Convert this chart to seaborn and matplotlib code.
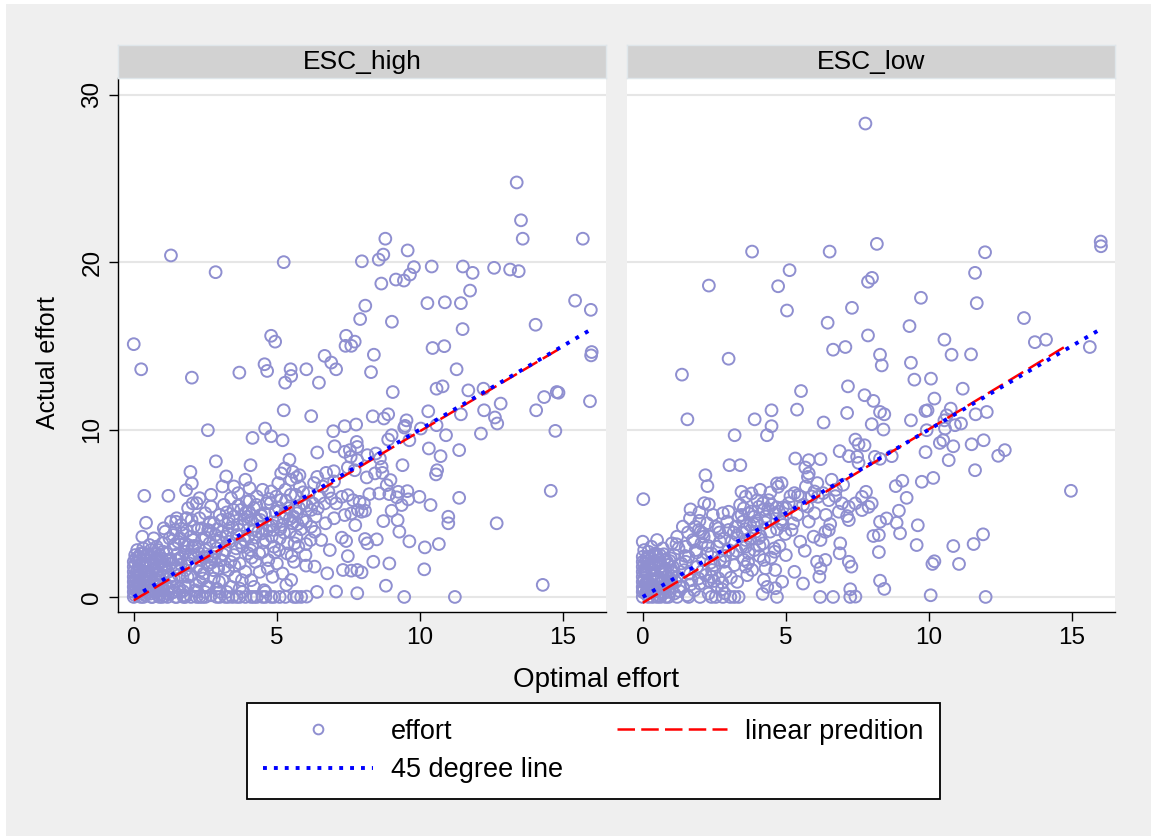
import matplotlib
matplotlib.use("Agg")
import matplotlib.pyplot as plt
import seaborn as sns
import pandas as pd
from matplotlib.lines import Line2D
from matplotlib.patches import Rectangle

# ---------------- data ----------------
panels = ["ESC_high", "ESC_low"]
x_ticks = [0, 5, 10, 15]
y_ticks = [0, 10, 20, 30]

high_sparse_x = [1.30, 2.86, 5.24, 7.97, 8.09, 7.91, 0.00, 4.80, 4.94, 7.42,
                 7.72, 7.40, 7.60, 13.38, 13.53, 13.59, 15.69, 8.79, 9.57, 8.72,
                 8.56, 9.79, 9.65, 9.16, 9.44, 8.65, 10.41, 11.50, 11.84, 12.59,
                 13.15, 13.45, 11.75, 10.26, 10.87, 11.43, 9.02, 11.49, 15.42, 15.97,
                 14.04, 10.44, 10.85, 8.39, 8.29, 11.28, 9.05, 10.58, 10.79, 11.69,
                 12.22, 16.00, 15.98, 14.34, 14.78, 14.84, 14.06, 15.94, 10.29, 11.43,
                 12.82, 12.24, 12.62, 12.70, 8.35, 8.74, 8.89, 9.53, 9.48, 9.45,
                 10.03, 10.58, 10.91, 9.63, 9.01, 8.89, 12.13, 14.73, 10.31, 10.72,
                 11.37, 8.16, 8.46, 8.60, 9.39, 8.66, 8.69, 8.43, 8.14, 8.84,
                 10.60, 10.56, 8.97, 8.23, 8.58, 8.93, 9.24, 9.56, 9.59, 9.19,
                 9.36, 9.98, 10.37, 11.37, 14.57, 8.04, 7.96, 8.08, 9.01, 8.72,
                 9.22, 9.28, 10.99, 10.99, 12.68, 8.08, 8.16, 8.49, 9.63, 10.17,
                 10.66, 8.37, 8.93, 7.96, 10.15, 8.81, 14.29, 9.45, 11.22]
high_sparse_y = [20.40, 19.40, 20.00, 20.05, 17.40, 16.60, 15.10, 15.60, 15.25, 15.60,
                 15.25, 15.00, 15.00, 24.76, 22.50, 21.40, 21.40, 21.40, 20.70, 20.45,
                 20.15, 19.70, 19.26, 18.96, 18.90, 18.72, 19.74, 19.74, 19.36, 19.66,
                 19.56, 19.46, 18.30, 17.55, 17.60, 17.55, 16.44, 16.00, 17.70, 17.15,
                 16.26, 14.87, 14.98, 14.47, 13.43, 13.60, 12.24, 12.44, 12.58, 12.34,
                 12.44, 14.63, 14.43, 11.94, 12.24, 12.20, 11.15, 11.69, 11.09, 10.91,
                 11.55, 11.15, 10.72, 10.36, 10.79, 10.66, 10.91, 10.55, 10.22, 10.12,
                 10.06, 10.26, 9.66, 9.36, 9.66, 9.40, 9.76, 9.92, 8.87, 8.41,
                 8.77, 8.47, 8.57, 8.27, 7.87, 7.77, 7.41, 7.38, 7.14, 6.68,
                 7.57, 7.32, 6.98, 6.14, 6.18, 6.14, 6.28, 6.32, 5.83, 5.95,
                 5.49, 5.98, 5.49, 5.92, 6.34, 5.59, 5.09, 5.15, 5.15, 4.53,
                 4.59, 3.90, 4.79, 4.40, 4.40, 3.46, 3.20, 3.44, 3.32, 2.96,
                 3.16, 2.10, 2.00, 1.47, 1.65, 0.67, 0.72, 0.00, 0.00]

high_mid_x = [0.26, 2.03, 3.69, 4.57, 4.66, 5.48, 5.50, 5.29, 6.03, 6.47,
              6.67, 6.90, 7.07, 5.24, 6.20, 2.59, 4.59, 4.80, 4.15, 5.20,
              6.97, 7.37, 7.77, 7.02, 7.37, 7.55, 7.79, 7.81, 6.41, 2.87,
              4.08, 5.44, 5.27, 5.56, 5.15, 5.69, 5.79, 3.23, 1.98, 2.03,
              1.83, 0.37, 1.21, 2.06, 0.43, 6.41, 6.72, 6.99, 7.48, 7.72,
              7.58, 7.81, 6.90, 7.07, 7.27, 7.48, 7.66, 7.83, 7.89, 7.37,
              7.60, 7.74, 7.27, 7.42, 7.48, 7.31, 7.60, 7.81, 6.76, 7.07,
              7.81, 6.04, 6.02, 6.32, 5.50, 5.33, 5.62, 6.02, 6.20, 6.32,
              6.18, 6.02, 6.43, 6.67, 6.26, 1.48, 1.83]
high_mid_y = [13.60, 13.10, 13.40, 13.90, 13.50, 13.60, 13.20, 12.80, 13.60, 12.80,
              14.40, 14.00, 13.60, 11.15, 10.80, 9.96, 10.06, 9.60, 9.50, 9.36,
              9.90, 10.20, 10.30, 9.00, 8.67, 8.77, 9.26, 8.96, 8.63, 8.10,
              7.87, 8.20, 7.67, 7.47, 7.38, 7.14, 7.27, 7.20, 7.47, 6.78,
              6.38, 6.04, 6.04, 5.59, 4.43, 7.17, 7.41, 7.51, 7.73, 7.57,
              8.37, 8.17, 5.88, 5.59, 5.98, 6.08, 5.78, 5.19, 5.68, 4.89,
              4.99, 4.29, 3.54, 3.34, 2.44, 1.61, 1.57, 1.61, 1.41, 0.32,
              0.22, 0.02, 1.87, 1.81, 1.01, 0.72, 3.20, 4.49, 4.19, 3.89,
              3.40, 3.16, 5.29, 5.59, 5.59, 4.49, 4.69]

high_dense_x = [0, 0, 0, 0, 0, 0, 0, 0, 0.05, 0.1,
                0.1, 0.12, 0.15, 0.2, 0.2, 0.22, 0.25, 0.3, 0.3, 0.32,
                0.35, 0.4, 0.4, 0.45, 0.5, 0.5, 0.55, 0.6, 0.6, 0.65,
                0.7, 0.7, 0.75, 0.8, 0.8, 0.85, 0.9, 0.9, 0.95, 1.0,
                1.0, 1.0, 0.05, 0.15, 0.18, 0.28, 0.38, 0.42, 0.48, 0.58,
                0.62, 0.68, 0.72, 0.78, 0.88, 0.92, 0.98, 0.05, 0.12, 0.25,
                0.55, 0.85,
                1.1, 1.15, 1.2, 1.2, 1.25, 1.3, 1.3, 1.35, 1.4, 1.4,
                1.45, 1.5, 1.5, 1.55, 1.6, 1.6, 1.65, 1.7, 1.7, 1.75,
                1.8, 1.8, 1.85, 1.9, 1.9, 1.95, 2.0, 2.0, 2.0, 1.05,
                2.1, 2.1, 2.15, 2.2, 2.25, 2.3, 2.3, 2.35, 2.4, 2.4,
                2.45, 2.5, 2.5, 2.55, 2.6, 2.6, 2.65, 2.7, 2.7, 2.75,
                2.8, 2.8, 2.85, 2.9, 2.9, 2.95, 3.0, 3.0, 2.2,
                3.05, 3.1, 3.1, 3.15, 3.2, 3.25, 3.3, 3.3, 3.35, 3.4,
                3.45, 3.5, 3.5, 3.55, 3.6, 3.65, 3.7, 3.7, 3.75, 3.8,
                3.85, 3.9, 3.9, 3.95, 4.0, 4.0,
                4.05, 4.1, 4.1, 4.15, 4.2, 4.25, 4.3, 4.3, 4.35, 4.4,
                4.45, 4.5, 4.5, 4.55, 4.6, 4.65, 4.7, 4.75, 4.8, 4.8,
                4.85, 4.9, 4.95, 5.0, 5.0,
                5.05, 5.1, 5.15, 5.2, 5.25, 5.3, 5.35, 5.4, 5.45, 5.5,
                5.55, 5.6, 5.65, 5.7, 5.75, 5.8, 5.85, 5.9, 5.95, 6.0,
                6.1, 6.2, 6.3, 6.35, 6.5, 6.55, 6.6, 6.7, 6.8, 6.85,
                7.0, 7.0, 6.4, 1.8, 2.3, 3.2, 3.6, 4.1, 4.6, 5.1,
                5.6]
high_dense_y = [0, 0.3, 0.6, 0.9, 1.2, 1.5, 1.8, 2.1, 0.1, 0.5,
                1.0, 1.6, 0.2, 0.8, 1.3, 2.2, 0, 0.5, 1.1, 1.8,
                2.6, 0.1, 0.9, 1.5, 0.3, 2.0, 0.7, 1.2, 2.8, 0,
                0.4, 1.7, 2.3, 0.9, 3.0, 0.1, 1.4, 2.5, 0.5, 1.9,
                3.2, 0, 0.7, 1.3, 1.9, 0.2, 1.3, 2.0, 0.9, 0.2,
                1.6, 2.1, 0.8, 1.3, 0.4, 1.0, 2.3, 2.5, 2.8, 2.6,
                3.1, 2.8,
                0.8, 2.6, 0.2, 1.5, 3.5, 4.5, 2.0, 0.6, 1.1, 2.9,
                4.0, 0, 1.7, 3.3, 0.5, 2.3, 4.3, 1.2, 3.8, 0.1,
                2.7, 1.6, 4.7, 0.7, 3.1, 2.0, 0, 3.6, 1.3, 4.1,
                2.5, 4.2, 0.4, 1.8, 3.0, 0.9, 4.7, 2.2, 0, 3.5,
                1.4, 5.0, 2.8, 0.6, 4.0, 1.9, 3.2, 0.1, 5.4, 2.4,
                1.1, 4.4, 3.7, 0.5, 2.9, 1.7, 4.9, 0, 5.6,
                2.2, 3.9, 1.0, 5.5, 2.8, 0.3, 4.4, 1.6, 3.3, 5.9,
                0, 2.5, 4.8, 1.2, 3.7, 6.2, 2.0, 0.5, 5.2, 3.0,
                4.3, 1.5, 0, 5.7, 2.6, 3.6,
                6.5, 1.0, 4.6, 3.1, 5.3, 2.1, 0, 6.0, 3.9, 1.5,
                4.9, 2.7, 6.4, 0.4, 3.4, 5.6, 2.2, 4.2, 0, 6.3,
                1.2, 3.0, 5.1, 4.5, 2.0,
                6.8, 3.5, 5.8, 1.4, 4.7, 6.4, 2.6, 5.3, 3.9, 7.0,
                4.4, 2.1, 6.1, 5.0, 3.0, 6.6, 0, 4.6, 5.6, 2.5,
                6.2, 5.2, 6.8, 4.8, 6.0, 3.4, 6.6, 4.4, 6.3, 2.8,
                6.9, 4.7, 0.3, 0, 0, 0, 0, 0, 0, 0,
                0]

high_fill_x = [0.02, 0.08, 0.14, 0.22, 0.33, 0.44, 0.52, 0.63, 0.74, 0.83,
               0.93, 1.03, 1.08, 1.18, 1.28, 1.38, 1.48, 1.58, 1.68, 1.78,
               1.88, 1.98, 2.08, 2.18, 2.28, 2.38, 2.48, 2.58, 2.68, 2.78,
               2.88, 2.98, 3.08, 3.18, 3.28, 3.38, 3.48, 3.58, 3.68, 3.78,
               3.88, 3.98, 4.08, 4.18, 4.28, 4.38, 4.48, 4.58, 4.68, 4.78,
               4.88, 4.98, 5.08, 5.18, 5.28, 5.38, 5.48, 5.58, 5.68, 5.78,
               1.22, 1.62, 2.02, 2.42, 2.82, 3.22, 3.62, 4.02, 4.42, 4.82,
               0.3, 0.7, 1.1, 1.5, 1.9, 2.3, 2.7, 3.1, 3.5, 3.9]
high_fill_y = [1.0, 2.3, 0.7, 1.6, 2.9, 0.5, 1.5, 2.4, 1.1, 1.8,
               0.2, 2.7, 1.9, 0.5, 1.2, 3.7, 2.2, 1.3, 2.4, 3.2,
               1.2, 2.5, 3.4, 0.7, 2.6, 4.1, 0.3, 2.4, 3.9, 1.6,
               3.3, 0.9, 4.6, 1.8, 3.8, 2.1, 5.2, 2.9, 4.0, 1.0,
               3.4, 4.8, 2.8, 4.0, 5.5, 2.6, 3.8, 5.0, 1.7, 5.6,
               4.0, 6.0, 2.8, 4.3, 5.0, 3.2, 6.1, 4.8, 3.6, 5.3,
               2.2, 3.5, 4.6, 1.1, 2.2, 3.6, 4.3, 5.1, 4.6, 3.6,
               3.6, 3.5, 3.9, 4.7, 5.3, 5.9, 6.1, 6.6, 6.6, 7.0]

high_base_x = [0.03, 0.1, 0.17, 0.24, 0.31, 0.38, 0.45, 0.52, 0.59, 0.66,
               0.73, 0.8, 0.87, 0.94, 1.01, 1.08, 1.15, 0.06, 0.2, 0.34,
               0.48, 0.62, 0.76, 0.9, 1.04, 1.18, 1.32, 1.46, 1.6, 1.74,
               2.2, 2.5, 2.9, 3.3, 3.7, 4.2, 4.5, 4.9, 5.3, 5.7]
high_base_y = [0.45, 1.45, 2.4, 0.65, 1.95, 0.35, 2.45, 1.05, 2.0, 0.5,
               2.55, 1.55, 0.7, 2.15, 1.25, 0.05, 2.2, 2.0, 2.4, 0.0,
               2.55, 0.0, 0.25, 0.0, 0.45, 0.0, 0.25, 0.0, 0.3, 0.0,
               0, 0, 0, 0, 0, 0, 0, 0, 0, 0]

high_band_x = [1.12, 1.32, 1.52, 1.72, 1.92, 2.12, 2.32, 2.52, 2.72, 2.92,
               3.12, 3.32, 3.52, 3.72, 3.92, 4.12, 4.32, 4.52, 4.72, 4.92,
               5.12, 5.32, 5.52, 5.72, 5.92, 1.25, 1.45, 1.65, 1.85, 2.05,
               2.25, 2.45, 2.65, 2.85, 3.05, 3.25, 3.45, 3.65, 3.85, 4.05,
               4.25, 4.45, 4.65, 4.85, 5.05, 5.25, 5.45, 5.65, 5.85, 6.05,
               1.0, 1.4, 1.8, 2.2, 2.6, 3.0, 3.4, 3.8, 4.2, 4.6]
high_band_y = [1.75, 0.95, 2.55, 0.35, 2.25, 3.05, 1.55, 3.55, 2.05, 4.05,
               2.55, 4.65, 1.85, 3.25, 5.05, 2.35, 4.55, 3.25, 5.85, 2.65,
               4.05, 5.75, 2.45, 4.35, 6.25, 2.25, 3.15, 1.95, 3.95, 2.95,
               4.05, 2.35, 4.45, 2.65, 3.55, 5.05, 4.15, 5.45, 4.65, 5.75,
               3.55, 4.85, 3.95, 4.25, 5.35, 3.85, 4.65, 5.15, 4.05, 5.45,
               0.6, 0.3, 0.6, 0.3, 0.6, 0.3, 0.6, 0.3, 0.6, 0.3]

low_sparse_x = [7.78, 3.82, 6.53, 8.18, 5.13, 2.31, 4.73, 8.01, 7.87, 5.04,
                7.31, 6.46, 7.87, 6.65, 7.08, 11.96, 16.00, 16.01, 11.61, 9.72,
                11.67, 13.32, 9.32, 10.54, 13.70, 14.09, 15.62, 8.29, 8.35, 9.37,
                10.79, 11.47, 9.49, 10.07, 11.18, 10.19, 8.06, 8.29, 8.44, 9.88,
                9.95, 10.76, 10.62, 10.54, 9.37, 8.00, 8.41, 9.92, 10.56, 10.91,
                11.12, 11.63, 12.02, 10.38, 10.50, 10.85, 11.49, 11.91, 9.88, 12.42,
                12.65, 10.69, 8.70, 8.11, 8.29, 11.61, 9.75, 10.15, 9.07, 8.84,
                9.22, 8.00, 14.96, 8.95, 8.29, 8.52, 8.87, 9.61, 8.99, 8.06,
                8.25, 9.57, 10.85, 11.56, 11.89, 8.25, 10.12, 10.19, 11.05, 8.29,
                8.44, 10.06, 11.98]
low_sparse_y = [28.28, 20.63, 20.63, 21.09, 19.52, 18.60, 18.56, 19.06, 18.83, 17.11,
                17.27, 16.38, 15.62, 14.77, 14.93, 20.59, 21.23, 20.95, 19.36, 17.87,
                17.55, 16.66, 16.18, 15.37, 15.22, 15.37, 14.93, 14.47, 13.83, 13.99,
                14.47, 14.49, 12.98, 13.04, 12.44, 11.85, 11.71, 11.05, 10.91, 11.11,
                11.15, 11.25, 10.85, 10.55, 10.55, 10.32, 10.00, 9.96, 10.06, 10.26,
                10.36, 10.91, 11.05, 9.20, 9.36, 9.00, 9.12, 9.36, 8.65, 8.43,
                8.77, 8.17, 8.41, 8.37, 8.25, 7.57, 6.88, 7.11, 6.94, 6.62,
                5.92, 5.59, 6.34, 5.15, 4.49, 4.69, 4.43, 4.28, 3.80, 3.64,
                3.70, 3.10, 3.04, 3.16, 3.74, 2.68, 1.97, 2.13, 1.97, 0.97,
                0.48, 0.10, 0.00]

low_mid_x = [3.00, 1.37, 5.53, 7.17, 7.75, 5.39, 4.50, 3.91, 1.56, 7.14,
             6.32, 4.50, 4.34, 3.21, 7.43, 7.54, 7.75, 6.88, 7.20, 7.49,
             7.54, 5.33, 5.80, 6.21, 5.68, 5.80, 5.77, 3.03, 3.41, 2.19,
             2.26, 0.02, 2.31, 1.98, 1.67, 3.45, 3.80, 4.00, 4.05, 4.23,
             4.46, 4.69, 4.73, 4.40, 5.16, 5.42, 4.90, 4.63, 4.81, 4.69,
             4.98, 6.12, 6.50, 6.73, 6.96, 7.20, 7.43, 7.66, 7.80, 7.89,
             7.66, 6.85, 7.14, 7.20, 6.55, 6.38, 6.50, 6.21, 5.97, 5.66,
             6.88, 6.09, 6.21, 6.17, 6.38, 7.20, 7.29, 7.25, 7.25, 7.43,
             6.65, 4.63, 4.87, 4.63, 4.69, 4.19, 4.23, 4.61, 4.23, 4.29,
             4.08, 3.70, 3.59, 3.82, 3.53, 3.35, 3.06, 2.77, 2.86, 2.42,
             2.31, 2.60, 2.65, 3.59, 3.94, 4.11, 1.02, 3.00, 3.35, 3.53,
             3.70, 1.84, 2.02, 2.13]
low_mid_y = [14.23, 13.28, 12.30, 12.58, 12.05, 11.19, 11.15, 10.61, 10.61, 10.99,
             10.42, 10.20, 9.66, 9.66, 9.40, 9.12, 9.06, 8.71, 8.41, 8.37,
             8.01, 8.27, 8.17, 8.23, 7.73, 7.38, 7.17, 7.87, 7.87, 7.27,
             6.62, 5.84, 5.53, 5.05, 5.23, 6.28, 6.18, 5.78, 5.38, 5.23,
             6.24, 6.78, 6.58, 5.78, 6.02, 6.08, 5.35, 4.99, 4.49, 4.04,
             3.76, 5.98, 5.78, 6.02, 5.59, 5.38, 5.59, 5.98, 6.28, 5.38,
             5.19, 5.09, 4.83, 4.59, 4.35, 3.89, 3.99, 3.40, 3.60, 2.76,
             2.61, 2.10, 1.71, 1.21, 2.21, 2.10, 1.81, 0.46, 0.00, 0.02,
             0.00, 1.61, 0.91, 0.52, 0.00, 0.18, 1.01, 2.70, 2.21, 1.71,
             2.44, 2.61, 1.81, 1.61, 2.21, 0.00, 0.00, 0.46, 0.22, 1.61,
             0.97, 0.61, 1.11, 3.40, 3.89, 3.64, 3.20, 5.09, 4.79, 5.29,
             4.99, 4.19, 3.89, 3.60]

low_dense_x = [0, 0, 0, 0, 0, 0, 0, 0, 0, 0.1,
               0.1, 0.1, 0.15, 0.2, 0.2, 0.25, 0.3, 0.3, 0.35, 0.4,
               0.4, 0.45, 0.5, 0.5, 0.55, 0.6, 0.6, 0.65, 0.7, 0.7,
               0.75, 0.8, 0.8, 0.85, 0.9, 0.95, 1.0, 1.0, 0.0, 0.3,
               0.5, 0.05, 0.05, 0.15, 0.25, 0.35, 0.45, 0.55, 0.65, 0.75,
               0.85, 0.95, 0.2, 0.7,
               1.1, 1.1, 1.2, 1.2, 1.3, 1.35, 1.4, 1.45, 1.5, 1.55,
               1.6, 1.65, 1.7, 1.75, 1.8, 1.85, 1.9, 1.95, 2.0, 2.05,
               2.1, 2.15, 2.2, 2.25, 2.3, 2.35, 2.4, 2.45, 2.5, 2.55,
               2.6, 2.65, 2.7, 2.8, 2.85, 2.9, 2.95, 3.0,
               3.1, 3.2, 3.25, 3.3, 3.4, 3.45, 3.5, 3.6, 3.65, 3.75,
               3.8, 3.9, 4.0, 4.1, 4.2, 4.3, 4.35, 4.45, 4.5, 4.6,
               4.75, 4.85, 4.9, 5.0, 5.1, 5.2, 5.3, 5.4, 5.5, 5.6,
               5.7, 5.8, 5.9, 6.0, 6.1, 6.3, 6.4, 6.6, 6.75, 7.0,
               5.3, 5.6, 6.9, 6.2]
low_dense_y = [0, 0.3, 0.6, 0.9, 1.2, 1.5, 1.8, 2.1, 2.4, 0.2,
               0.8, 1.4, 2.0, 0, 0.5, 1.1, 1.7, 2.3, 0.3, 0.9,
               1.4, 2.0, 0, 0.6, 1.2, 1.8, 2.5, 0.2, 0.9, 1.5,
               2.2, 0, 0.6, 1.2, 1.9, 0.3, 0.9, 1.5, 3.3, 3.0,
               3.4, 2.8, 1.0, 0.4, 1.9, 0.7, 2.6, 0.1, 1.5, 0.5,
               2.1, 1.1, 2.7, 2.9,
               0.2, 2.5, 1.2, 3.6, 0.6, 2.0, 4.2, 1.6, 3.0, 0.1,
               2.4, 4.7, 1.0, 3.4, 0.4, 2.8, 1.8, 4.0, 0.8, 3.2,
               2.2, 5.6, 1.3, 4.4, 0.2, 3.6, 2.6, 4.9, 1.9, 0.0,
               3.0, 4.1, 2.2, 5.0, 3.5, 1.5, 4.5, 2.8,
               3.3, 1.9, 4.2, 0.9, 5.5, 3.0, 4.5, 6.0, 1.3, 3.5,
               5.1, 2.8, 4.4, 6.4, 3.2, 4.8, 0.6, 3.9, 5.5, 2.9,
               5.1, 6.8, 4.3, 2.5, 5.6, 4.0, 6.2, 4.9, 3.3, 5.5,
               6.6, 4.5, 6.0, 5.0, 6.8, 6.2, 4.9, 7.0, 6.4, 6.7,
               1.5, 0.8, 3.2, 0]

low_fill_x = [0.02, 0.08, 0.12, 0.18, 0.28, 0.38, 0.48, 0.58, 0.68, 0.78,
              0.88, 0.98, 1.05, 1.15, 1.25, 1.4, 1.5, 1.65, 1.8, 1.95,
              2.1, 2.25, 2.4, 2.55, 2.7, 2.85, 3.0, 3.15, 3.3, 3.45,
              3.6, 3.75, 3.9, 4.05, 4.2, 5.0, 5.25, 5.5, 5.75, 6.0]
low_fill_y = [0.45, 1.65, 2.25, 0.9, 0.6, 1.95, 1.0, 2.2, 0.5, 1.7,
              0.8, 2.3, 1.8, 0.9, 2.9, 0.6, 2.1, 1.4, 3.3, 1.1,
              3.8, 2.6, 1.2, 4.2, 3.3, 2.1, 4.0, 2.6, 3.7, 4.9,
              3.0, 4.3, 4.8, 3.5, 5.6, 5.3, 4.4, 6.0, 5.4, 6.3]

low_base_x = [0.03, 0.1, 0.17, 0.24, 0.31, 0.38, 0.45, 0.52, 0.59, 0.66,
              0.73, 0.8, 0.87, 0.94, 1.01, 0.06, 0.2, 0.34, 0.48, 0.62,
              0.76, 0.9, 1.2, 1.6, 2.0, 2.4, 2.8, 3.2]
low_base_y = [0.45, 1.45, 2.4, 0.65, 1.95, 0.35, 2.45, 1.05, 2.0, 0.5,
              2.55, 1.55, 0.7, 2.15, 1.25, 2.0, 2.4, 0.0, 2.55, 0.0,
              0.25, 0.0, 0, 0, 0, 0, 0, 0]

low_band_x = [1.08, 1.28, 1.48, 1.68, 1.88, 2.08, 2.28, 2.48, 2.68, 2.88,
              3.08, 3.28, 3.48, 3.68, 3.88, 4.08, 4.28, 4.48, 4.68, 4.88,
              1.18, 1.58, 1.98, 2.38, 2.78, 3.18, 3.58, 3.98, 4.38, 4.78]
low_band_y = [1.45, 0.35, 2.45, 0.75, 2.65, 1.55, 3.05, 0.95, 3.85, 2.45,
              1.15, 2.75, 3.85, 2.05, 4.35, 3.05, 4.45, 2.35, 5.35, 4.65,
              3.15, 3.85, 4.55, 2.05, 0.85, 3.85, 4.05, 4.55, 5.25, 3.05]

# 45 degree line and linear prediction end points
diag_x = [0, 16]
pred_high_x = [0, 14.9]
pred_high_y = [-0.2, 14.85]
pred_low_x = [0, 14.8]
pred_low_y = [-0.35, 15.0]

# ---------------- style ----------------
sns.set_theme(style="white")
plt.rcParams['font.family'] = ['Liberation Sans', 'DejaVu Sans']
plt.rcParams['text.color'] = 'black'

PT = '#8f8fd0'
W, H = 1151, 836
fig = plt.figure(figsize=(W / 100, H / 100), dpi=100)
fig.patch.set_facecolor('white')
fig.add_artist(Rectangle((6 / W, 0), 1 - 6 / W, 1 - 4 / H, transform=fig.transFigure,
                         facecolor='#efefef', edgecolor='none', zorder=-10))

BLUE_LS = (0, (1, 1.8))
RED_LS = (0, (7, 2.5))

def panel(x0, title, xs, ys, px, py, first):
    ax = fig.add_axes([x0 / W, 1 - 612 / H, 488 / W, (612 - 78) / H])
    ax.set_facecolor('white')
    df = pd.DataFrame({'opt': xs, 'act': ys})
    sns.scatterplot(data=df, x='opt', y='act', ax=ax, marker='o', s=72,
                    facecolor='none', edgecolor=PT, linewidth=1.4, zorder=3, legend=False)
    for c in ax.collections:
        c.set_facecolor('none')
        c.set_edgecolor(PT)
    ax.plot(px, py, color='red', lw=1.8, ls=RED_LS, zorder=4)
    ax.plot(diag_x, diag_x, color='blue', lw=2.8, ls=BLUE_LS, zorder=5)
    ax.set_xlim(-0.55, 16.5)
    ax.set_ylim(-0.9, 31.0)
    ax.set_xticks(x_ticks)
    ax.set_xticklabels([str(t) for t in x_ticks])
    ax.set_yticks(y_ticks)
    ax.yaxis.grid(True, color='#e6e6e6', lw=1.5)
    ax.xaxis.grid(False)
    ax.set_axisbelow(True)
    ax.set_xlabel('')
    ax.set_ylabel('')
    for s in ['top', 'right']:
        ax.spines[s].set_visible(False)
    ax.spines['bottom'].set_color('black')
    ax.spines['bottom'].set_linewidth(1.0)
    ax.tick_params(axis='x', bottom=True, direction='out', length=6.5, width=1.0,
                   color='black', labelsize=17.5, pad=4, labelcolor='black')
    if first:
        ax.spines['left'].set_color('black')
        ax.spines['left'].set_linewidth(1.0)
        ax.tick_params(axis='y', left=True, direction='out', length=6.5, width=1.0,
                       color='black', labelsize=17.5, pad=4, labelcolor='black')
        ax.set_yticklabels([str(t) for t in y_ticks], rotation=90, va='center')
    else:
        ax.spines['left'].set_visible(False)
        ax.tick_params(axis='y', left=False, labelleft=False)
    # strip header
    st = fig.add_axes([x0 / W, 1 - 78 / H, 488 / W, 33 / H])
    st.set_facecolor('#d2d2d2')
    st.set_xticks([]); st.set_yticks([])
    for s in st.spines.values():
        s.set_color('#dfe6ea'); s.set_linewidth(1.0)
    st.text(0.5, 0.48, title, ha='center', va='center', fontsize=19, color='black',
            transform=st.transAxes)
    return ax

panel(118, panels[0],
      high_sparse_x + high_mid_x + high_dense_x + high_fill_x + high_base_x + high_band_x,
      high_sparse_y + high_mid_y + high_dense_y + high_fill_y + high_base_y + high_band_y,
      pred_high_x, pred_high_y, True)
panel(627, panels[1],
      low_sparse_x + low_mid_x + low_dense_x + low_fill_x + low_base_x + low_band_x,
      low_sparse_y + low_mid_y + low_dense_y + low_fill_y + low_base_y + low_band_y,
      pred_low_x, pred_low_y, False)

fig.text(48 / W, 1 - 363 / H, 'Actual effort', rotation=90, ha='center', va='center',
         fontsize=18, color='black')
fig.text(596 / W, 1 - 680 / H, 'Optimal effort', ha='center', va='center',
         fontsize=20, color='black')

handles = [
    Line2D([], [], marker='o', ls='none', mfc='none', mec=PT, ms=7, mew=1.4),
    Line2D([], [], color='blue', lw=2.8, ls=BLUE_LS),
    Line2D([], [], color='red', lw=1.8, ls=RED_LS),
]
labels = ['effort', '45 degree line', 'linear predition']
leg = fig.legend(handles, labels, ncol=2, loc='center',
                 bbox_to_anchor=(593.5 / W, 1 - 751 / H), frameon=True, fancybox=False,
                 fontsize=19.5, handlelength=4.05, handletextpad=0.67, columnspacing=2.0,
                 borderpad=0.6, labelspacing=0.45, borderaxespad=0, labelcolor='black')
fr = leg.get_frame()
fr.set_edgecolor('black'); fr.set_linewidth(1.3); fr.set_facecolor('white'); fr.set_alpha(1)

fig.savefig('out.png', dpi=100, facecolor=fig.get_facecolor())
